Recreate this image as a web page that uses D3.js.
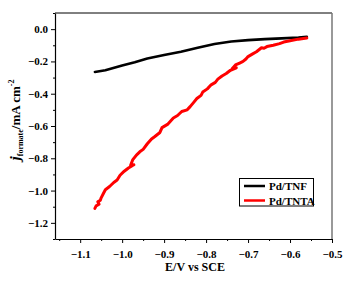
<!DOCTYPE html>
<html>
<head>
<meta charset="utf-8">
<script src="https://cdn.jsdelivr.net/npm/d3@7"></script>
<style>
  body { margin: 0; background: #fff; }
  text { font-family: "Liberation Serif", "Times New Roman", serif; font-weight: bold; fill: #000; }
</style>
</head>
<body>
<svg id="chart" width="348" height="282"></svg>
<script>
// data
const seriesNames = ["Pd/TNF", "Pd/TNTA"];
const seriesColors = ["#000000", "#ff0000"];

const tnf = [
  [-1.065, -0.265], [-1.04, -0.255], [-1.0, -0.225], [-0.97, -0.205], [-0.94, -0.182],
  [-0.9, -0.16], [-0.86, -0.14], [-0.82, -0.115], [-0.78, -0.092], [-0.74, -0.077],
  [-0.70, -0.068], [-0.66, -0.062], [-0.62, -0.057], [-0.58, -0.052], [-0.56, -0.048]
];

const tnta = [
  [-0.56, -0.055], [-0.58, -0.062], [-0.60, -0.072], [-0.615, -0.08], [-0.625, -0.09],
  [-0.64, -0.1], [-0.655, -0.108], [-0.662, -0.118], [-0.668, -0.115], [-0.68, -0.14],
  [-0.69, -0.155], [-0.70, -0.17], [-0.705, -0.185], [-0.712, -0.2], [-0.72, -0.21],
  [-0.73, -0.222], [-0.738, -0.245], [-0.728, -0.24], [-0.742, -0.255], [-0.752, -0.275],
  [-0.762, -0.29], [-0.772, -0.31], [-0.778, -0.33], [-0.788, -0.345], [-0.797, -0.37],
  [-0.808, -0.39], [-0.812, -0.41], [-0.822, -0.43], [-0.83, -0.455], [-0.838, -0.48],
  [-0.845, -0.5], [-0.858, -0.51], [-0.868, -0.535], [-0.878, -0.55], [-0.885, -0.57],
  [-0.892, -0.59], [-0.905, -0.61], [-0.91, -0.64], [-0.922, -0.665], [-0.93, -0.68],
  [-0.94, -0.71], [-0.95, -0.745], [-0.958, -0.76], [-0.966, -0.78], [-0.975, -0.81],
  [-0.98, -0.845], [-0.972, -0.84], [-0.985, -0.86], [-0.995, -0.88], [-1.005, -0.905],
  [-1.012, -0.935], [-1.02, -0.95], [-1.03, -0.975], [-1.04, -0.995], [-1.045, -1.02],
  [-1.05, -1.045], [-1.052, -1.06], [-1.058, -1.07], [-1.055, -1.085], [-1.062, -1.095],
  [-1.065, -1.11]
];

const xTicks = [-1.1, -1.0, -0.9, -0.8, -0.7, -0.6, -0.5];
const yTicks = [0.0, -0.2, -0.4, -0.6, -0.8, -1.0, -1.2];

const svg = d3.select("#chart");
const mLeft = 55, mRight = 332, mTop = 13, mBottom = 239;
const serif = "'Liberation Serif', 'Times New Roman', serif";

const x = d3.scaleLinear().domain([-1.16, -0.5]).range([mLeft, mRight]);
const y = d3.scaleLinear().domain([-1.3, 0.1]).range([mBottom, mTop]);

// frame
svg.append("line").attr("x1", mLeft).attr("x2", mRight).attr("y1", mTop).attr("y2", mTop)
  .attr("stroke", "#000").attr("stroke-width", 1);
svg.append("line").attr("x1", mRight).attr("x2", mRight).attr("y1", mTop).attr("y2", mBottom)
  .attr("stroke", "#777").attr("stroke-width", 1.5);

// minor ticks
const xMinor = d3.range(-1.15, -0.5, 0.1).map(v => +v.toFixed(2));
const yMinor = d3.range(0.1, -1.31, -0.2).map(v => +v.toFixed(2));

const xAxis = svg.append("g").attr("transform", `translate(0,${mBottom})`)
  .call(d3.axisBottom(x).tickValues(xTicks).tickFormat(d3.format(".1f")).tickSize(4).tickSizeOuter(0));
svg.append("g").attr("transform", `translate(0,${mBottom})`)
  .call(d3.axisBottom(x).tickValues(xMinor).tickFormat("").tickSize(2).tickSizeOuter(0))
  .select(".domain").remove();

const yAxis = svg.append("g").attr("transform", `translate(${mLeft},0)`)
  .call(d3.axisLeft(y).tickValues(yTicks).tickFormat(d3.format(".1f")).tickSize(4).tickSizeOuter(0));
svg.append("g").attr("transform", `translate(${mLeft},0)`)
  .call(d3.axisLeft(y).tickValues(yMinor).tickFormat("").tickSize(2).tickSizeOuter(0))
  .select(".domain").remove();

[xAxis, yAxis].forEach(g => {
  g.attr("font-family", serif).attr("font-size", 11).attr("font-weight", "bold");
  g.selectAll("text").attr("font-family", serif).style("font-family", serif);
  g.select(".domain").attr("stroke-width", 1.2);
});
xAxis.selectAll("text").attr("dy", "1.1em");
yAxis.selectAll("text").attr("x", -7);

// lines
const line = d3.line().x(d => x(d[0])).y(d => y(d[1]));
[tnf, tnta].forEach((data, i) => {
  svg.append("path").datum(data)
    .attr("d", line)
    .attr("fill", "none")
    .attr("stroke", seriesColors[i])
    .attr("stroke-width", i === 0 ? 2.6 : 3)
    .attr("stroke-linejoin", "round")
    .attr("stroke-linecap", "round");
});

// axis titles
svg.append("text").attr("x", 195).attr("y", 271)
  .attr("text-anchor", "middle").style("font-size", "12px").text("E/V vs SCE");

const yl = svg.append("text")
  .attr("transform", "translate(20,120) rotate(-90)")
  .attr("text-anchor", "middle").style("font-size", "13px");
yl.append("tspan").style("font-style", "italic").style("font-size", "15px").text("j");
yl.append("tspan").attr("dy", 3).style("font-size", "8px").text("formate");
yl.append("tspan").attr("dy", -3).text("/mA cm");
yl.append("tspan").attr("dy", -6).style("font-size", "8px").text("-2");

// legend
const lg = svg.append("g");
lg.append("rect").attr("x", 239.5).attr("y", 178.5).attr("width", 74).attr("height", 27.5)
  .attr("fill", "#fff").attr("stroke", "#000").attr("stroke-width", 1);
seriesNames.forEach((name, i) => {
  const ly = 186 + i * 14.5;
  lg.append("line").attr("x1", 244).attr("x2", 265).attr("y1", ly).attr("y2", ly)
    .attr("stroke", seriesColors[i]).attr("stroke-width", 2.5);
  lg.append("text").attr("x", 269).attr("y", ly + 4).style("font-size", "11px").text(name);
});
</script>
</body>
</html>
